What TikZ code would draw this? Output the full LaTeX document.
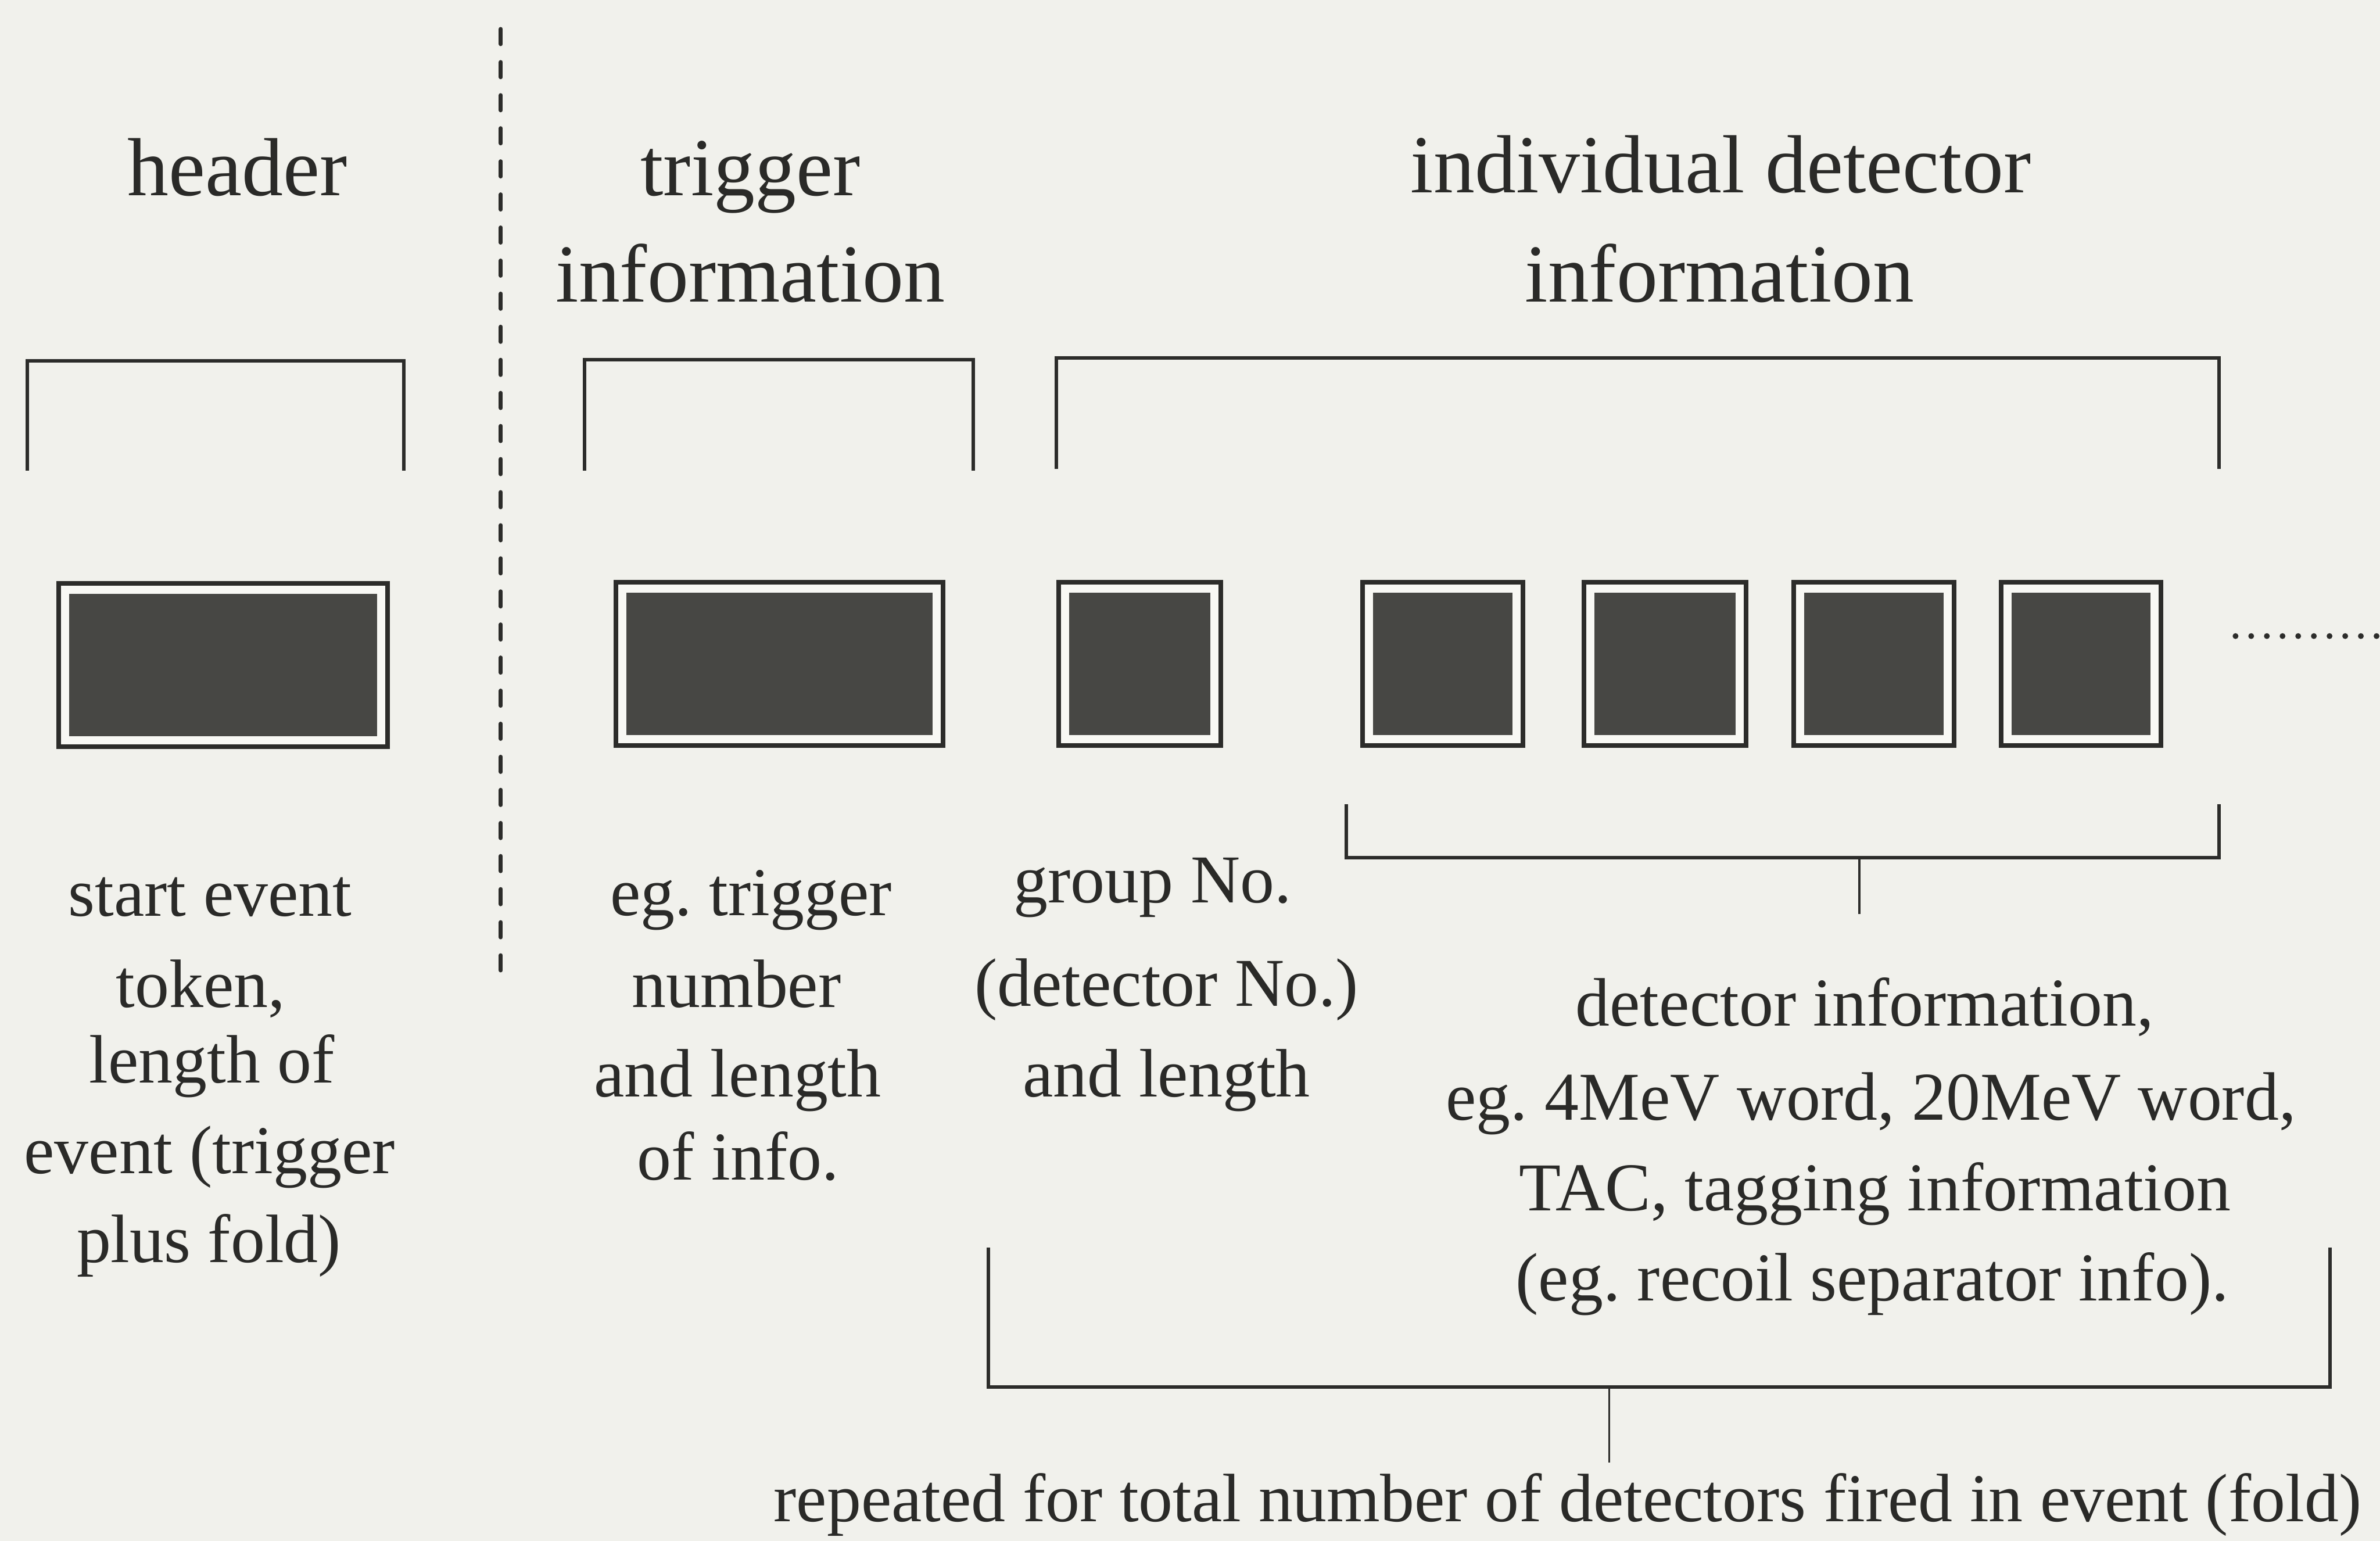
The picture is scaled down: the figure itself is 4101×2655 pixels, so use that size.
\documentclass[tikz,border=0pt]{standalone}
\usepackage{fontspec}
\setmainfont{Liberation Serif}
\frenchspacing
\definecolor{bgc}{HTML}{F1F1EC}
\definecolor{gapc}{HTML}{F8F8F4}
\definecolor{fillc}{HTML}{474744}
\definecolor{linec}{HTML}{2C2C2A}
\definecolor{textc}{HTML}{2A2A28}
\tikzset{
  obox/.style={draw=linec, line width=8pt, fill=gapc, inner sep=0pt, outer sep=0pt, minimum height=281pt},
  ibox/.style={fill=fillc, inner sep=0pt, outer sep=0pt, minimum height=245pt},
  bracket/.style={draw=linec, line width=6pt, line join=miter},
  tick/.style={draw=linec, line width=3.5pt},
  ttl/.style={anchor=base, inner sep=0pt, text=textc, font=\fontsize{142}{188}\selectfont},
  body/.style={anchor=base, inner sep=0pt, text=textc, font=\fontsize{118}{158}\selectfont},
}
\newcommand\mybox[4]{%
  \node[obox, minimum width=#4pt] (#1) at (#2,#3) {};
  \node[ibox, minimum width=#4pt-36pt] (#1i) at (#1) {};
}
\begin{document}
\begin{tikzpicture}[x=1pt,y=-1pt]
\fill[bgc] (0,0) rectangle (4101,2655);
\useasboundingbox (0,0) rectangle (4101,2655);

% separator
\coordinate (sepT) at (863,50);
\coordinate (sepB) at (863,1675);
\draw[linec, line width=7pt, line cap=round, dash pattern=on 26pt off 31pt] (sepT) -- (sepB);

% titles
\node[ttl] (tHeader) at (409,337) {header};
\node[ttl] (tTrigA) at (1293,337) {trigger};
\node[ttl] (tTrigB) at (1293,520) {information};
\node[ttl] (tDetA) at (2965,332) {individual detector};
\node[ttl] (tDetB) at (2963,520) {information};

% top brackets
\draw[bracket] (47,811) -- (47,622) -- (696,622) -- (696,811);
\draw[bracket] (1007,811) -- (1007,620) -- (1677,620) -- (1677,811);
\draw[bracket] (1820,808) -- (1820,617) -- (3824,617) -- (3824,808);

% boxes
\mybox{b1}{384.5}{1146}{567}
\mybox{b2}{1343}{1144}{564}
\mybox{b3}{1964}{1144}{280}
\mybox{b4}{2486}{1144}{277}
\mybox{b5}{2869}{1144}{280}
\mybox{b6}{3229}{1144}{277}
\mybox{b7}{3586}{1144}{275}

% continuation dots
\coordinate (dotA) at (3852,1096);
\coordinate (dotB) at (4098,1096);
\draw[linec, line width=10pt, line cap=round, dash pattern=on 0pt off 27pt] (dotA) -- (dotB);

% detector bracket below boxes
\draw[bracket] (2320,1386) -- (2320,1478) -- (3824,1478) -- (3824,1386);
\coordinate (detTickA) at (3204,1478);
\coordinate (detTickB) at (3204,1575);
\draw[tick] (detTickA) -- (detTickB);

% big repeat bracket
\draw[bracket] (1703,2150) -- (1703,2390) -- (4015,2390) -- (4015,2150);
\coordinate (repTickA) at (2773,2390);
\coordinate (repTickB) at (2773,2520);
\draw[tick] (repTickA) -- (repTickB);

% header text
\node[body] (h1) at (362,1578) {start event};
\node[body] (h2) at (346,1736) {token,};
\node[body] (h3) at (365,1866) {length of};
\node[body] (h4) at (361,2022) {event (trigger};
\node[body] (h5) at (360,2175) {plus fold)};

% trigger text
\node[body] (g1) at (1294,1577) {eg. trigger};
\node[body] (g2) at (1269,1736) {number};
\node[body] (g3) at (1271,1890) {and length};
\node[body] (g4) at (1272,2033) {of info.};

% group text
\node[body] (p1) at (1986,1555) {group No.};
\node[body] (p2) at (2010,1734) {(detector No.)};
\node[body] (p3) at (2010,1890) {and length};

% detector info text
\node[body] (d1) at (3213,1768) {detector information,};
\node[body] (d2) at (3224,1930) {eg. 4MeV word, 20MeV word,};
\node[body] (d3) at (3231,2086) {TAC, tagging information};
\node[body] (d4) at (3226,2241) {(eg. recoil separator info).};

% bottom
\node[body] (rep) at (2701,2622) {repeated for total number of detectors fired in event (fold)};
\end{tikzpicture}
\end{document}
